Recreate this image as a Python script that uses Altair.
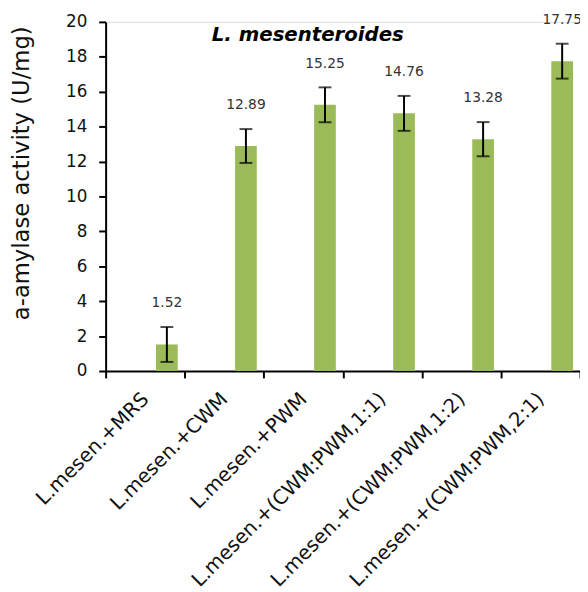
import altair as alt
import pandas as pd

categories = [
    "L.mesen.+MRS",
    "L.mesen.+CWM",
    "L.mesen.+PWM",
    "L.mesen.+(CWM:PWM,1:1)",
    "L.mesen.+(CWM:PWM,1:2)",
    "L.mesen.+(CWM:PWM,2:1)",
]
values = [1.52, 12.89, 15.25, 14.76, 13.28, 17.75]
errors = [1.0, 0.97, 1.0, 1.0, 0.98, 1.0]
y_ticks = [0, 2, 4, 6, 8, 10, 12, 14, 16, 18, 20]
title_text = "L. mesenteroides"
y_title = "a-amylase activity (U/mg)"

df = pd.DataFrame({"cat": categories, "val": values, "err": errors})
df["lo"] = df["val"] - df["err"]
df["hi"] = df["val"] + df["err"]

FONT = "DejaVu Sans"
GREEN = "#9BBB59"

x_axis = alt.Axis(
    title=None,
    labelAngle=315,
    labelAlign="right",
    labelBaseline="middle",
    labelFont=FONT,
    labelFontSize=20,
    labelColor="#111",
    labelPadding=18,
    labelLimit=500,
    labelOverlap=False,
    labelBound=False,
    tickBand="extent",
    tickSize=7,
    tickColor="black",
    tickWidth=2,
    domainColor="black",
    domainWidth=2,
    grid=False,
)
x_scale = alt.Scale(paddingInner=0, paddingOuter=0)
y_scale = alt.Scale(domain=[0, 20], nice=False)
y_axis = alt.Axis(
    title=y_title,
    titleFont=FONT,
    titleFontSize=23,
    titleFontWeight="normal",
    titleColor="#111",
    titleAngle=270,
    titleAlign="center",
    titleBaseline="middle",
    titleX=-85,
    titleY=153,
    values=y_ticks,
    tickCount=11,
    labelOverlap=False,
    labelFont=FONT,
    labelFontSize=17,
    labelColor="#111",
    labelPadding=12,
    tickSize=7,
    tickColor="black",
    tickWidth=2,
    domainColor="black",
    domainWidth=2,
    grid=False,
)


def X():
    return alt.X("cat:N", sort=categories, scale=x_scale, axis=x_axis)


def Y(field):
    return alt.Y(field, type="quantitative", scale=y_scale, axis=y_axis, title=y_title)


base = alt.Chart(df)

bars = base.mark_bar(width=22, xOffset=22, color=GREEN).encode(x=X(), y=Y("val"))
rule = base.mark_rule(xOffset=22, color="black", strokeWidth=2).encode(
    x=X(), y=Y("lo"), y2="hi:Q"
)
cap_hi = base.mark_tick(xOffset=22, color="black", size=13, thickness=2).encode(
    x=X(), y=Y("hi")
)
cap_lo = base.mark_tick(xOffset=22, color="black", size=13, thickness=2).encode(
    x=X(), y=Y("lo")
)
labels = base.mark_text(
    xOffset=22, dy=-24, font=FONT, fontSize=14, color="#333", baseline="middle"
).encode(x=X(), y=Y("hi"), text=alt.Text("val:Q", format=".2f"))
title = alt.Chart(pd.DataFrame({"t": [title_text]})).mark_text(
    font=FONT, fontSize=20, fontWeight="bold", fontStyle="italic",
    color="black", align="center", baseline="middle",
).encode(x=alt.value(205), y=alt.value(13), text="t:N")

chart = alt.layer(bars, rule, cap_hi, cap_lo, labels, title).properties(
    width=481,
    height=354,
    autosize=alt.AutoSizeParams(type="none"),
    padding={"left": 99, "top": 10, "right": 0, "bottom": 220},
).configure_view(stroke=None).configure(background="white")

chart.save("out.html", embed_options={"renderer": "svg", "actions": False})
